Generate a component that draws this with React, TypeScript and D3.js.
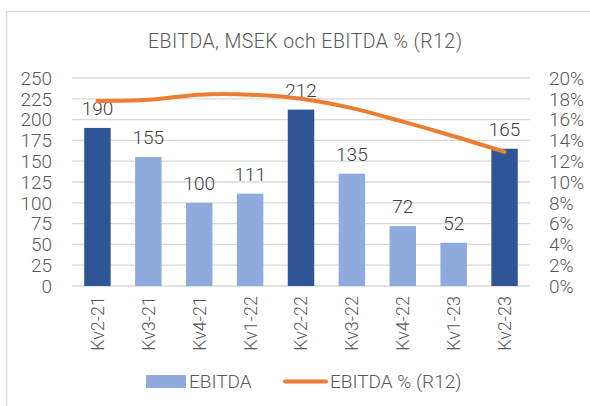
import React from "react";
import * as d3 from "d3";

const categories = ["Kv2-21", "Kv3-21", "Kv4-21", "Kv1-22", "Kv2-22", "Kv3-22", "Kv4-22", "Kv1-23", "Kv2-23"];
const ebitda = [190, 155, 100, 111, 212, 135, 72, 52, 165];
const ebitdaPct = [17.8, 17.9, 18.4, 18.4, 18.0, 17.1, 15.8, 14.4, 12.9];
const highlight = [true, false, false, false, true, false, false, false, true];
const leftTicks = [0, 25, 50, 75, 100, 125, 150, 175, 200, 225, 250];
const rightTicks = [0, 2, 4, 6, 8, 10, 12, 14, 16, 18, 20];

const W = 590, H = 406;
const plot = { left: 72, right: 530, top: 78, bottom: 286 };
const FONT = "Roboto, 'Noto Sans', sans-serif";
const TXT = "#595959";

export default function App() {
  const x = d3.scaleBand<string>().domain(categories).range([plot.left, plot.right]).paddingInner(0.48).paddingOuter(0.24);
  const yL = d3.scaleLinear().domain([0, 250]).range([plot.bottom, plot.top]);
  const yR = d3.scaleLinear().domain([0, 20]).range([plot.bottom, plot.top]);
  const cx = (c: string) => (x(c) as number) + x.bandwidth() / 2;
  const line = d3.line<number>().x((_, i) => cx(categories[i])).y(d => yR(d)).curve(d3.curveCatmullRom.alpha(0.5));

  return (
    <svg width={W} height={H} style={{ position: "absolute", left: 0, top: 0, background: "#fff" }} fontFamily={FONT} fontWeight={300}>
      <rect x={6.5} y={11.5} width={700} height={500} fill="#fff" stroke="#d9d9d9" strokeWidth={1.5} />
      <text x={305} y={48} textAnchor="middle" fontSize={19.5} fill={TXT} textLength={314} lengthAdjust="spacing">EBITDA, MSEK och EBITDA % (R12)</text>
      {leftTicks.map(t => (
        <line key={"g" + t} x1={plot.left} x2={plot.right} y1={yL(t)} y2={yL(t)} stroke="#d9d9d9" strokeWidth={1.3} />
      ))}
      {leftTicks.map(t => (
        <text key={"l" + t} x={52} y={yL(t)} dy="0.36em" textAnchor="end" fontSize={19} fill={TXT}>{t}</text>
      ))}
      {rightTicks.map(t => (
        <text key={"r" + t} x={549} y={yR(t)} dy="0.36em" textAnchor="start" fontSize={19} fill={TXT}>{t + "%"}</text>
      ))}
      {categories.map((c, i) => (
        <rect key={"b" + c} x={x(c)} y={yL(ebitda[i])} width={x.bandwidth()} height={plot.bottom - yL(ebitda[i])}
          fill={highlight[i] ? "#2f5597" : "#8faadc"} />
      ))}
      {categories.map((c, i) => (
        <text key={"v" + c} x={cx(c)} y={yL(ebitda[i]) - 13} textAnchor="middle" fontSize={19} fill="#404040">{ebitda[i]}</text>
      ))}
      <path d={line(ebitdaPct) || ""} fill="none" stroke="#ed7d31" strokeWidth={4} strokeLinecap="round" />
      {categories.map(c => (
        <text key={"x" + c} transform={`translate(${cx(c)},${plot.bottom + 10}) rotate(-90)`} dy="0.36em" textAnchor="end" fontSize={18} fill={TXT}>{c}</text>
      ))}
      <rect x={146} y={375} width={40} height={13} fill="#8faadc" />
      <text x={189} y={388} fontSize={19} fill={TXT}>EBITDA</text>
      <line x1={285} x2={326} y1={381.5} y2={381.5} stroke="#ed7d31" strokeWidth={4} strokeLinecap="round" />
      <text x={330} y={388} fontSize={19} fill={TXT}>EBITDA % (R12)</text>
    </svg>
  );
}
